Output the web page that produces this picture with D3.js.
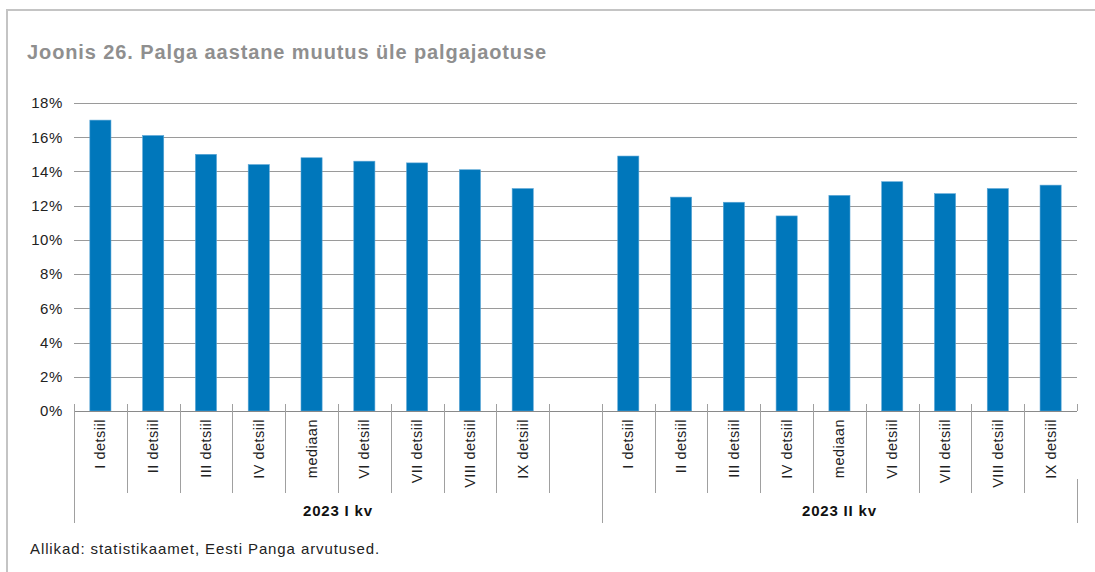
<!DOCTYPE html>
<html>
<head>
<meta charset="utf-8">
<script src="https://cdn.jsdelivr.net/npm/d3@7"></script>
<style>
  body { margin: 0; background: #fff; }
  svg { display: block; font-family: "Liberation Sans", Arial, sans-serif; }
</style>
</head>
<body>
<div id="chart"></div>
<script>
// Data
var categories = ["I detsiil", "II detsiil", "III detsiil", "IV detsiil", "mediaan",
                  "VI detsiil", "VII detsiil", "VIII detsiil", "IX detsiil"];
var groups = ["2023 I kv", "2023 II kv"];
var valuesQ1 = [17.0, 16.1, 15.0, 14.4, 14.8, 14.6, 14.5, 14.1, 13.0];
var valuesQ2 = [14.9, 12.5, 12.2, 11.4, 12.6, 13.4, 12.7, 13.0, 13.2];
var yTicks = [0, 2, 4, 6, 8, 10, 12, 14, 16, 18];

var W = 1095, H = 572;
var margin = {top: 103, left: 74, right: 18, bottom: 161};
var width = W - margin.left - margin.right,
    height = H - margin.top - margin.bottom;

// build slots: group 1, one empty gap slot, group 2
var slots = [];
categories.forEach(function(c, i){ slots.push({key: "a" + i, cat: c, v: valuesQ1[i], g: 0}); });
slots.push({key: "gap", cat: "", v: null, g: -1});
categories.forEach(function(c, i){ slots.push({key: "b" + i, cat: c, v: valuesQ2[i], g: 1}); });

var svg = d3.select("#chart").append("svg")
    .attr("width", W).attr("height", H);

// frame
svg.append("path")
    .attr("d", "M7," + H + "V10H" + W)
    .attr("fill", "none").attr("stroke", "#c4c4c4").attr("stroke-width", 2);

// title
svg.append("text")
    .attr("x", 27).attr("y", 59)
    .style("font-size", "20px").style("font-weight", "bold")
    .style("letter-spacing", "0.9px")
    .attr("fill", "#8f8f8f")
    .text("Joonis 26. Palga aastane muutus üle palgajaotuse");

var g = svg.append("g").attr("transform", "translate(" + margin.left + "," + margin.top + ")");

var x = d3.scaleBand().domain(slots.map(function(d){ return d.key; }))
    .range([0, width]).paddingInner(0.6).paddingOuter(0.3);
var step = x.step();
var y = d3.scaleLinear().domain([0, 18]).range([height, 0]);

// gridlines
g.append("g").selectAll("line").data(yTicks.slice(1)).enter().append("line")
    .attr("x1", 0).attr("x2", width)
    .attr("y1", function(d){ return Math.round(y(d)) + 0.5; })
    .attr("y2", function(d){ return Math.round(y(d)) + 0.5; })
    .attr("stroke", "#9a9a9a").attr("stroke-width", 1);

// y axis labels
var yAxis = g.append("g")
    .call(d3.axisLeft(y).tickValues(yTicks).tickSize(0).tickPadding(11)
        .tickFormat(function(d){ return d + "%"; }));
yAxis.select(".domain").remove();
yAxis.selectAll("text").style("font-size", "15px").attr("fill", "#222")
    .style("letter-spacing", "0.6px")
    .style("font-family", "'Liberation Sans', Arial, sans-serif");

// bars
g.append("g").selectAll("rect").data(slots.filter(function(d){ return d.v !== null; }))
    .enter().append("rect")
    .attr("x", function(d){ return x(d.key); })
    .attr("width", x.bandwidth())
    .attr("y", function(d){ return y(d.v); })
    .attr("height", function(d){ return height - y(d.v); })
    .attr("fill", "#0077bb")
    .attr("stroke", "#5aa6d6").attr("stroke-width", 0.6);

// x axis baseline
g.append("line")
    .attr("x1", 0).attr("x2", width)
    .attr("y1", height + 0.5).attr("y2", height + 0.5)
    .attr("stroke", "#8a8a8a").attr("stroke-width", 1);

// category separators
var seps = d3.range(0, slots.length + 1);
g.append("g").selectAll("line").data(seps).enter().append("line")
    .attr("x1", function(i){ return Math.round(i * step) + 0.5; })
    .attr("x2", function(i){ return Math.round(i * step) + 0.5; })
    .attr("y1", height - 7)
    .attr("y2", function(i){ return (i === slots.length) ? height : height + 82; })
    .attr("stroke", "#a0a0a0").attr("stroke-width", 1);

// group separators
var groupEdges = [0, 10, 19];
g.append("g").selectAll("line").data(groupEdges).enter().append("line")
    .attr("x1", function(i){ return Math.round(i * step) + 0.5; })
    .attr("x2", function(i){ return Math.round(i * step) + 0.5; })
    .attr("y1", height + 68).attr("y2", height + 112)
    .attr("stroke", "#a0a0a0").attr("stroke-width", 1);

// category labels (rotated)
g.append("g").selectAll("text").data(slots.filter(function(d){ return d.v !== null; }))
    .enter().append("text")
    .attr("transform", function(d){
        return "translate(" + (x(d.key) + x.bandwidth() / 2 + 5) + "," + (height + 8) + ") rotate(-90)";
    })
    .attr("text-anchor", "end")
    .style("font-size", "14.5px").style("letter-spacing", "0.5px").attr("fill", "#222")
    .text(function(d){ return d.cat; });

// group labels
g.append("g").selectAll("text").data(groups).enter().append("text")
    .attr("x", function(d, i){ return (groupEdges[i] + groupEdges[i + 1]) / 2 * step; })
    .attr("y", height + 105)
    .attr("text-anchor", "middle")
    .style("font-size", "15px").style("font-weight", "bold").style("letter-spacing", "0.8px")
    .attr("fill", "#111")
    .text(function(d){ return d; });

// source
svg.append("text")
    .attr("x", 30).attr("y", 554)
    .style("font-size", "15px").style("letter-spacing", "0.9px").attr("fill", "#222")
    .text("Allikad: statistikaamet, Eesti Panga arvutused.");
</script>
</body>
</html>
